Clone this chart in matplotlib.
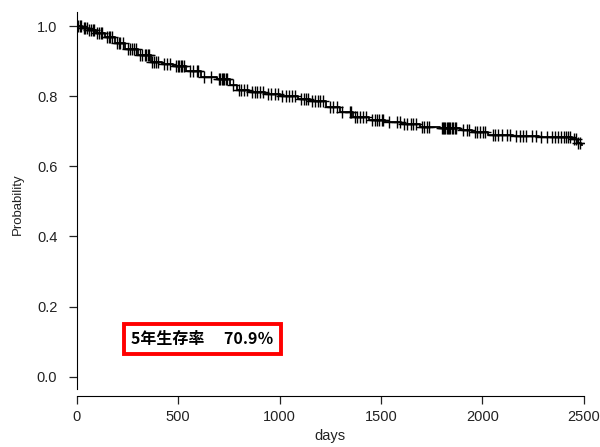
import numpy as np
import matplotlib
matplotlib.use("Agg")
import matplotlib.pyplot as plt

plt.rcParams['font.family'] = ['Liberation Sans', 'DejaVu Sans']

# Kaplan-Meier step values (days, survival after the drop)
event_days = [0, 28, 55, 95, 140, 190, 240, 300, 365, 420, 475, 540, 610, 690,
              755, 790, 850, 930, 1000, 1090, 1150, 1230, 1300, 1360, 1440,
              1520, 1600, 1690, 1790, 1890, 1950, 2030, 2150, 2280, 2440, 2466,
              2488]
survival = [1.0, 0.994, 0.988, 0.980, 0.969, 0.952, 0.936, 0.917, 0.899, 0.893,
            0.886, 0.872, 0.855, 0.849, 0.832, 0.818, 0.812, 0.807, 0.800, 0.792,
            0.785, 0.769, 0.755, 0.741, 0.733, 0.727, 0.720, 0.712, 0.709, 0.703,
            0.698, 0.689, 0.686, 0.683, 0.679, 0.667, 0.660]
last_day = 2492

# censored observations (days)
censor_days = [8, 15, 22, 35, 42, 48, 62, 70, 78, 84, 102, 110, 118, 126, 150,
               158, 165, 172, 200, 208, 215, 226, 250, 262, 270, 282, 290, 310,
               322, 335, 342, 350, 356, 372, 380, 392, 400, 430, 445, 460, 490,
               498, 505, 512, 520, 528, 560, 575, 592, 600, 625, 660, 700, 708,
               716, 722, 728, 735, 742, 770, 800, 812, 826, 838, 862, 878, 890,
               905, 918, 945, 960, 975, 990, 1012, 1030, 1048, 1062, 1075, 1105,
               1118, 1128, 1140, 1162, 1175, 1188, 1200, 1212, 1248, 1262, 1282,
               1310, 1345, 1352, 1370, 1382, 1395, 1410, 1425, 1455, 1468, 1480,
               1492, 1505, 1512, 1540, 1578, 1592, 1615, 1630, 1648, 1660, 1672,
               1700, 1712, 1728, 1738, 1800, 1806, 1812, 1818, 1824, 1830, 1836,
               1842, 1848, 1856, 1864, 1872, 1905, 1922, 1935, 1962, 1975, 1988,
               2005, 2015, 2052, 2062, 2075, 2098, 2120, 2135, 2168, 2185, 2200,
               2215, 2245, 2262, 2290, 2320, 2345, 2360, 2375, 2390, 2400, 2412,
               2422, 2432, 2452, 2460, 2472, 2480]

step_x = event_days + [last_day]
step_y = survival + [survival[-1]]
censor_y = [survival[np.searchsorted(event_days, d, side='right') - 1] for d in censor_days]

fig = plt.figure(figsize=(6, 4.47), dpi=100)
ax = fig.add_axes([0.128, 0.114, 0.845, 0.859])

ax.step(step_x, step_y, where='post', color='black', lw=1.3)
ax.plot(censor_days, censor_y, ls='none', marker='+', color='black',
        markersize=9, markeredgewidth=1.0)

ax.set_xlim(0, 2500)
ax.set_ylim(-0.055, 1.04)
ax.set_xticks([0, 500, 1000, 1500, 2000, 2500])
ax.set_yticks([0.0, 0.2, 0.4, 0.6, 0.8, 1.0])
ax.set_yticklabels(['0.0', '0.2', '0.4', '0.6', '0.8', '1.0'])
for side in ['top', 'right']:
    ax.spines[side].set_visible(False)
ax.spines['left'].set_bounds(-0.035, 1.04)
ax.tick_params(axis='both', direction='out', length=6, width=0.9, labelsize=10.5,
               colors='#222222')
ax.tick_params(axis='y', pad=8)
ax.tick_params(axis='x', pad=4)
ax.set_xlabel('days', fontsize=10.5, labelpad=4, color='#222222')
ax.set_ylabel('Probability', fontsize=9.5, labelpad=9, color='#222222')

ax.text(621, 0.107, '5年生存率　 70.9％', ha='center', va='center',
        fontsize=11.5, fontweight='bold', family=['Noto Sans CJK JP', 'DejaVu Sans'],
        bbox=dict(boxstyle='square,pad=0.45', fc='white', ec='#ff0000', lw=2.8))

fig.savefig('out.png', dpi=100)
